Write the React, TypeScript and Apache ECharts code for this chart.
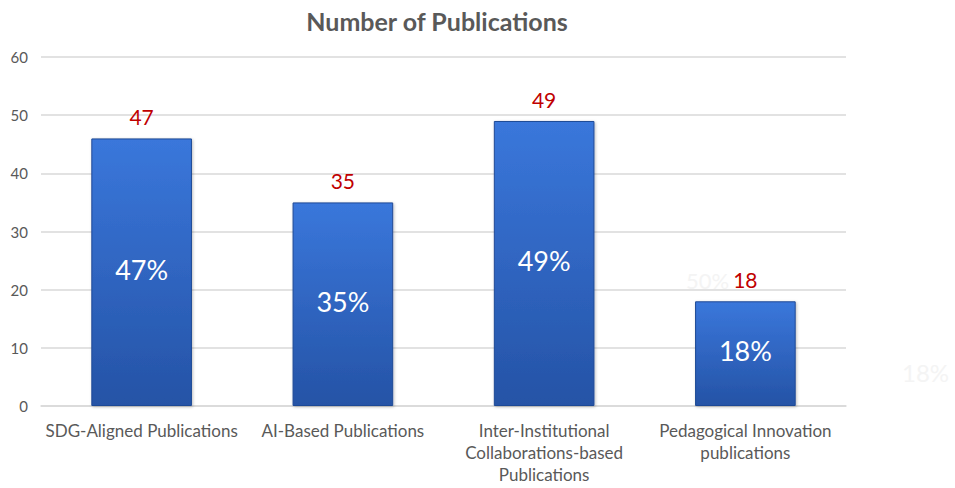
import React, { useEffect, useRef } from "react";
import * as echarts from "echarts";

const categories = [
  "SDG-Aligned Publications",
  "AI-Based Publications",
  "Inter-Institutional\nCollaborations-based\nPublications",
  "Pedagogical Innovation\npublications",
];
const barValues = [46, 35, 49, 18];
const topLabels = ["47", "35", "49", "18"];
const insideLabels = ["47%", "35%", "49%", "18%"];
const yTicks = { min: 0, max: 60, interval: 10 };

const FONT = "Lato, 'Open Sans', sans-serif";

export default function App() {
  const ref = useRef<HTMLDivElement>(null);
  useEffect(() => {
    document.body.style.margin = "0";
    if (!ref.current) return;
    const chart = echarts.init(ref.current, undefined, { renderer: "svg" });
    const barColor = new echarts.graphic.LinearGradient(0, 0, 0, 1, [
      { offset: 0, color: "#3a77db" },
      { offset: 1, color: "#2553a6" },
    ]);
    chart.setOption({
      animation: false,
      title: {
        text: "Number of Publications",
        left: 432,
        top: 3,
        textAlign: "center",
        textStyle: { fontFamily: FONT, fontSize: 25, fontWeight: "bold", color: "#595959" },
      },
      grid: { left: 41, right: 109, top: 57, bottom: 82 },
      xAxis: {
        type: "category",
        data: categories,
        axisLine: { lineStyle: { color: "#d9d9d9", width: 1.5 } },
        axisTick: { show: false },
        axisLabel: {
          interval: 0,
          fontFamily: FONT,
          fontSize: 17,
          color: "#595959",
          lineHeight: 22,
          margin: 13,
        },
      },
      yAxis: {
        type: "value",
        min: yTicks.min,
        max: yTicks.max,
        interval: yTicks.interval,
        axisLine: { show: false },
        axisTick: { show: false },
        splitLine: { lineStyle: { color: "#d9d9d9", width: 1.5 } },
        axisLabel: { fontFamily: FONT, fontSize: 15, color: "#595959", margin: 13 },
      },
      series: [
        {
          type: "bar",
          barWidth: "50%",
          data: barValues.map((v, i) => ({
            value: v,
            label: { formatter: insideLabels[i] },
          })),
          itemStyle: {
            color: barColor,
            borderColor: "#1f4a96",
            borderWidth: 1,
            shadowColor: "rgba(0,0,0,0.25)",
            shadowBlur: 3,
            shadowOffsetX: 1,
            shadowOffsetY: 1,
          },
          label: {
            show: true,
            position: "inside",
            offset: [0, -3],
            fontFamily: FONT,
            fontSize: 27,
            color: "#ffffff",
          },
        },
        {
          type: "bar",
          barWidth: "50%",
          barGap: "-100%",
          silent: true,
          data: barValues.map((v, i) => ({
            value: v,
            label: { formatter: topLabels[i] },
          })),
          itemStyle: { color: "transparent" },
          label: {
            show: true,
            position: "top",
            distance: 11,
            fontFamily: FONT,
            fontSize: 21,
            color: "#c00000",
          },
          z: 3,
        },
      ],
      graphic: [
        {
          type: "text",
          left: 686,
          top: 269,
          z: 0,
          style: { text: "50%", fontFamily: FONT, fontSize: 22, fill: "#f4f4f4" },
        },
        {
          type: "text",
          left: 902,
          top: 360,
          style: { text: "18%", fontFamily: FONT, fontSize: 24, fill: "#f4f4f4" },
        },
      ],
    });
    return () => chart.dispose();
  }, []);
  return <div ref={ref} style={{ width: 955, height: 488 }} />;
}
